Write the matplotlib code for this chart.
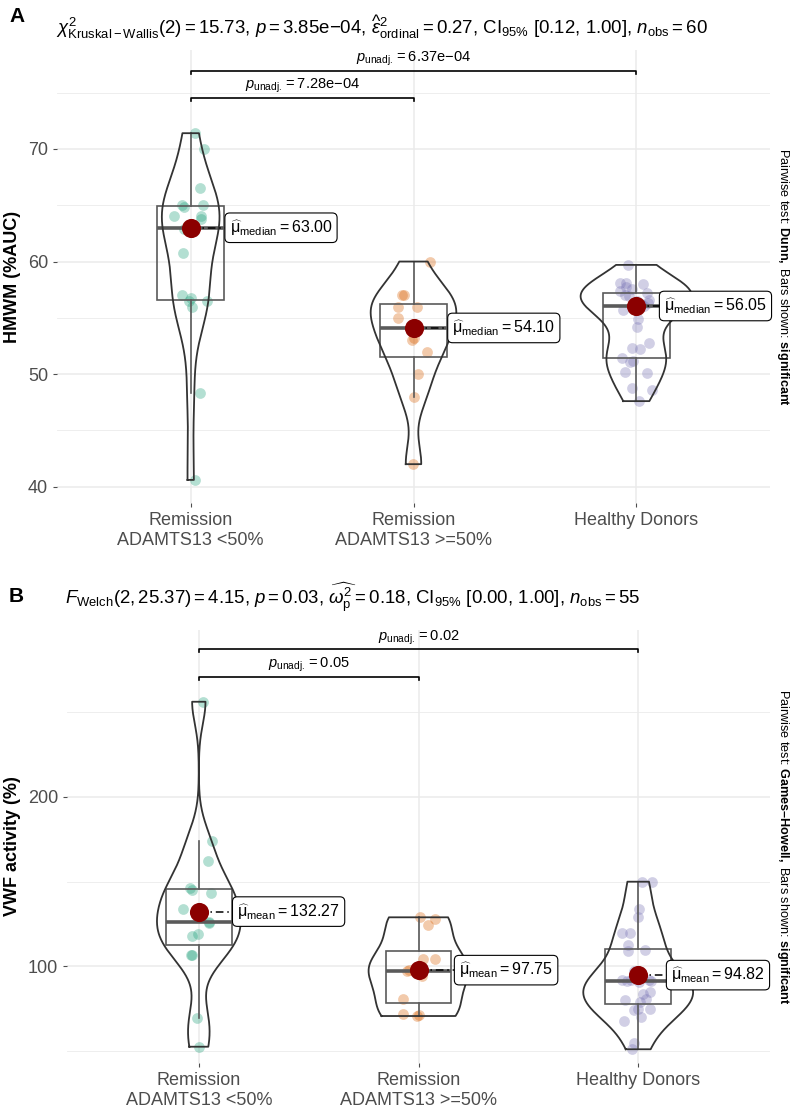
import numpy as np
import matplotlib
matplotlib.use("Agg")
import matplotlib.pyplot as plt

plt.rcParams['font.family'] = ['Liberation Sans', 'DejaVu Sans']
plt.rcParams['mathtext.fontset'] = 'custom'
plt.rcParams['mathtext.rm'] = 'Liberation Sans'
plt.rcParams['mathtext.it'] = 'Liberation Sans:italic'
plt.rcParams['mathtext.bf'] = 'Liberation Sans:bold'

groups = ["Remission\nADAMTS13 <50%", "Remission\nADAMTS13 >=50%", "Healthy Donors"]
colors = ["#1B9E77", "#D95F02", "#7570B3"]

# panel A: HMWM (%AUC)
hmwm_low = [71.4, 70.0, 66.5, 65.0, 64.8, 65.0, 64.0, 64.05, 63.8, 63.0, 62.9,
            60.8, 57.0, 56.5, 56.75, 56.0, 56.45, 48.3, 40.6]
hmwm_high = [60.0, 57.0, 57.0, 55.95, 55.95, 55.0, 53.2, 53.0, 52.0, 50.0, 48.0, 42.0]
hmwm_hd = [59.7, 58.1, 58.1, 58.0, 57.7, 57.55, 57.4, 57.2, 57.0, 56.9, 56.6, 56.5,
           56.3, 56.2, 56.05, 55.7, 54.9, 54.2, 52.8, 52.3, 52.2, 51.4, 51.2, 51.1,
           50.2, 50.1, 48.8, 48.55, 47.6]

# panel B: VWF activity (%)
vwf_low = [256.0, 174.1, 162.15, 146.0, 145.0, 143.0, 134.0, 125.9, 125.3, 119.0,
           117.9, 106.7, 106.7, 69.7, 52.6]
vwf_high = [128.9, 127.7, 124.4, 104.1, 104.1, 97.8, 97.0, 94.5, 80.5, 72.0, 71.3, 70.7]
vwf_hd = [149.9, 149.9, 133.8, 129.2, 119.8, 119.8, 112.6, 109.6, 109.0, 97.0, 92.0,
          91.8, 91.6, 91.9, 91.5, 90.5, 85.0, 83.5, 80.5, 80.0, 79.1, 74.6, 74.6,
          74.2, 69.9, 67.9, 54.6, 51.1]

title_a = (r"$\chi^2_{\mathrm{Kruskal-Wallis}}(2) = 15.73$, $p = 3.85\mathrm{e}{-}04$, "
           r"$\widehat{\epsilon}^2_{\mathrm{ordinal}} = 0.27$, CI$_{95\%}$ [0.12, 1.00], "
           r"$n_{\mathrm{obs}} = 60$")
title_b = (r"$F_{\mathrm{Welch}}(2, 25.37) = 4.15$, $p = 0.03$, "
           r"$\widehat{\omega_{\mathrm{p}}^2} = 0.18$, CI$_{95\%}$ [0.00, 1.00], "
           r"$n_{\mathrm{obs}} = 55$")
pairs_a = [((1, 2), r"$p_{\mathrm{unadj.}} = 7.28\mathrm{e}{-}04$"),
           ((1, 3), r"$p_{\mathrm{unadj.}} = 6.37\mathrm{e}{-}04$")]
pairs_b = [((1, 2), r"$p_{\mathrm{unadj.}} = 0.05$"),
           ((1, 3), r"$p_{\mathrm{unadj.}} = 0.02$")]

W, H = 790, 1113


def nrd0(x):
    x = np.asarray(x)
    sd = np.std(x, ddof=1)
    iqr = (np.percentile(x, 75) - np.percentile(x, 25)) / 1.34
    lo = min(sd, iqr) if iqr > 0 else sd
    return 0.9 * lo * len(x) ** -0.2


def kde(x):
    x = np.asarray(x)
    bw = nrd0(x)
    ys = np.linspace(x.min(), x.max(), 400)
    d = np.exp(-0.5 * ((ys[:, None] - x[None, :]) / bw) ** 2).sum(1)
    d /= len(x) * bw * np.sqrt(2 * np.pi)
    return ys, d


def panel(rect, data, ylabel, ylim, yticks, minor, stat, pairs, bars, caption,
          label_dx):
    ax = fig.add_axes(rect)
    for s in ax.spines.values():
        s.set_visible(False)
    ax.set_xlim(0.4, 3.6)
    ax.set_ylim(*ylim)
    for m in minor:
        ax.axhline(m, color="#EBEBEB", lw=0.6, zorder=0)
    ax.grid(True, color="#EBEBEB", lw=1.1, zorder=0)
    ax.set_axisbelow(True)
    ax.set_xticks([1, 2, 3])
    ax.set_xticklabels(groups, fontsize=13, color="#4D4D4D")
    ax.set_yticks(yticks)
    ax.tick_params(axis="both", colors="#4D4D4D", labelsize=13, length=3, width=0.8)
    ax.set_ylabel(ylabel, fontsize=13, fontweight="bold", labelpad=5)

    # violins (area-scaled, trimmed) and jittered points
    rng = np.random.default_rng(7)
    dens = [kde(v) for v in data]
    dmax = max(d.max() for _, d in dens)
    for i, v in enumerate(data):
        pos = i + 1
        jit = rng.uniform(-0.075, 0.075, len(v))
        ax.scatter(pos + jit, v, s=60, color=colors[i], alpha=0.33, lw=0, zorder=2)
        ys, d = dens[i]
        hw = 0.25 * d / dmax
        ax.plot(np.r_[pos - hw, (pos + hw)[::-1], pos - hw[0]],
                np.r_[ys, ys[::-1], ys[0]], color="#333333", lw=1.3, zorder=4)
    ax.boxplot(data, positions=[1, 2, 3], widths=0.3, showfliers=False, showcaps=False,
               patch_artist=True, manage_ticks=False,
               boxprops=dict(facecolor="none", edgecolor="#5A5A5A", lw=1.2),
               whiskerprops=dict(color="#5A5A5A", lw=1.2),
               medianprops=dict(color="#5A5A5A", lw=2.6), zorder=3)

    # centrality dot + label
    for i, v in enumerate(data):
        pos = i + 1
        c = np.median(v) if stat == "median" else np.mean(v)
        lx = pos + label_dx[i]
        ax.plot([pos, lx], [c, c], color="black", lw=1.1,
                ls=(0, (5, 2.5, 1, 2.5)), zorder=5)
        ax.scatter([pos], [c], s=190, color="#8B0000", lw=0, zorder=6)
        ax.text(lx, c, r"$\widehat{\mathrm{\mu}}_{\mathrm{%s}} = %.2f$" % (stat, c),
                fontsize=11.5, ha="left", va="center", zorder=7,
                bbox=dict(boxstyle="round,pad=0.3,rounding_size=0.3",
                          fc="white", ec="black", lw=0.8))

    # significance brackets
    for ((a, b), txt), (yb, tick) in zip(pairs, bars):
        ax.plot([a, a, b, b], [yb - tick, yb, yb, yb - tick], color="black", lw=1.2,
                clip_on=False, zorder=5)
        ax.text((a + b) / 2, yb + tick * 0.9, txt, ha="center", va="bottom",
                fontsize=10.5, zorder=5)

    x0, y0, w, h = rect
    fig.text(783 / W, y0 + h / 2, caption, rotation=270, ha="center", va="center",
             fontsize=9.1)
    return ax


fig = plt.figure(figsize=(W / 100, H / 100), dpi=100)

rect_a = [57 / W, 1 - 503 / H, 713 / W, 453 / H]
rect_b = [67 / W, 1 - 1063 / H, 703 / W, 433 / H]

panel(rect_a, [hmwm_low, hmwm_high, hmwm_hd], "HMWM (%AUC)", (38.55, 78.79),
      [40, 50, 60, 70], [45, 55, 65, 75], "median", pairs_a,
      [(74.56, 0.3), (76.95, 0.3)],
      r"Pairwise test: $\mathbf{Dunn,}$ Bars shown: $\mathbf{significant}$",
      [0.175, 0.175, 0.125])
panel(rect_b, [vwf_low, vwf_high, vwf_hd], "VWF activity (%)", (43.0, 298.3),
      [100, 200], [50, 150, 250], "mean", pairs_b,
      [(270.8, 1.8), (286.9, 1.8)],
      "Pairwise test: $\\mathbf{Games\u2013Howell,}$ Bars shown: $\\mathbf{significant}$",
      [0.175, 0.185, 0.15])

fig.text(56 / W, 1 - 27 / H, title_a, fontsize=13.4, ha="left", va="center")
fig.text(65 / W, 1 - 598 / H, title_b, fontsize=13.4, ha="left", va="center")
fig.text(9 / W, 1 - 17 / H, "A", fontsize=15, fontweight="bold", ha="left", va="center")
fig.text(9 / W, 1 - 597 / H, "B", fontsize=15, fontweight="bold", ha="left", va="center")

fig.savefig("out.png", dpi=100, facecolor="white")
